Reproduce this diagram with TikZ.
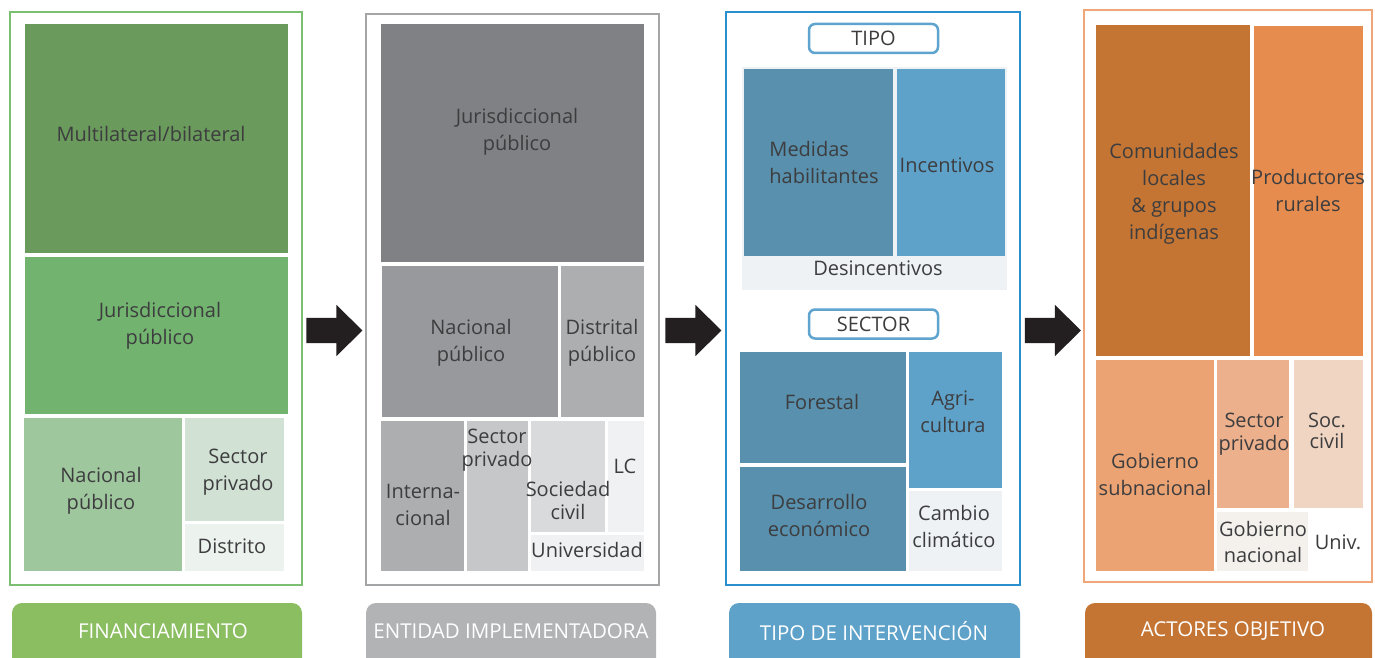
\documentclass[tikz,border=0pt]{standalone}
\usepackage{fontspec}
\setmainfont{Open Sans}
\usetikzlibrary{shapes.arrows}
\definecolor{gA}{HTML}{6A9A5C}
\definecolor{gB}{HTML}{72B46F}
\definecolor{gC}{HTML}{9FC79D}
\definecolor{gD}{HTML}{D1E1D4}
\definecolor{gE}{HTML}{ECF2EE}
\definecolor{gBorder}{HTML}{7CBE72}
\definecolor{gLabel}{HTML}{8BBD61}
\definecolor{kA}{HTML}{808184}
\definecolor{kB}{HTML}{98999C}
\definecolor{kC}{HTML}{ADAEB0}
\definecolor{kD}{HTML}{C6C7C8}
\definecolor{kE}{HTML}{D9DADB}
\definecolor{kF}{HTML}{F0F1F2}
\definecolor{kBorder}{HTML}{A4A5A7}
\definecolor{kLabel}{HTML}{B2B3B5}
\definecolor{bA}{HTML}{5890AD}
\definecolor{bB}{HTML}{5EA2CA}
\definecolor{bC}{HTML}{EEF2F5}
\definecolor{bBorder}{HTML}{2A8FCD}
\definecolor{bPill}{HTML}{5EA4CF}
\definecolor{bLabel}{HTML}{5EA2CA}
\definecolor{oA}{HTML}{C47534}
\definecolor{oB}{HTML}{E68C4E}
\definecolor{oC}{HTML}{EBA374}
\definecolor{oD}{HTML}{EDB08C}
\definecolor{oE}{HTML}{F1D5C3}
\definecolor{oF}{HTML}{F4F0EC}
\definecolor{oBorder}{HTML}{F1A679}
\definecolor{oLabel}{HTML}{C47534}
\definecolor{txtcol}{HTML}{3D3D3F}
\definecolor{arrowcol}{HTML}{231F20}
\newcommand{\cellbox}[6]{%
  \node[cellnode, fill=#6, minimum width={(#4-#2)*1pt}, minimum height={(#5-#3)*1pt}, anchor=north west] (#1) at (#2,#3) {};}
\newcommand{\panelframe}[6]{%
  \node[framenode, draw=#6, minimum width={(#4-#2)*1pt}, minimum height={(#5-#3)*1pt}, anchor=north west] (#1) at (#2,#3) {};}
\begin{document}
\begin{tikzpicture}[x=1pt,y=-1pt,
  cellnode/.style={rectangle, inner sep=0, outer sep=0, draw=none},
  framenode/.style={rectangle, inner sep=0, outer sep=0, line width=2pt, fill=white},
  txt/.style={inner sep=0, outer sep=0, align=center, text=txtcol, font=\fontsize{20}{27}\selectfont},
  tight/.style={font=\fontsize{20}{23}\selectfont},
  labelbox/.style={rectangle, rounded corners=10pt, inner sep=0, outer sep=0, draw=none},
  labeltext/.style={inner sep=0, text=white, font=\fontsize{20.5}{24}\selectfont},
  pill/.style={rectangle, rounded corners=6pt, line width=2.5pt, draw=bPill, fill=white, inner sep=0, text=txtcol, font=\fontsize{20}{24}\selectfont, minimum width=129pt, minimum height=29pt},
  blockarrow/.style={single arrow, fill=arrowcol, draw=none, minimum height=56pt, single arrow head extend=13pt, single arrow tip angle=89, inner sep=0, outer sep=0}
]
\useasboundingbox (0,0) rectangle (1375,658);
\fill[white] (0,0) rectangle (1375,658);

% ---------- Panel 1: FINANCIAMIENTO ----------
\panelframe{p1}{10}{12}{302}{585}{gBorder}
\cellbox{g1}{25}{24}{288}{253}{gA}
\cellbox{g2}{25}{257}{288}{414}{gB}
\cellbox{g3}{24}{418}{182}{571}{gC}
\cellbox{g4}{185}{418}{284}{521}{gD}
\cellbox{g5}{185}{524}{284}{571}{gE}
\node[txt] (g1t) at (151,134) {Multilateral/bilateral};
\node[txt] (g2t) at (160,326) {Jurisdiccional\\público};
\node[txt] (g3t) at (101,491) {Nacional\\público};
\node[txt] (g4t) at (238,472) {Sector\\privado};
\node[txt] (g5t) at (232,546) {Distrito};
\node[labelbox, fill=gLabel, minimum width=290pt, minimum height=70pt, anchor=north west] (l1) at (12,603) {};
\node[labeltext] (l1t) at (163,631) {FINANCIAMIENTO};

% ---------- Panel 2: ENTIDAD IMPLEMENTADORA ----------
\panelframe{p2}{366}{14}{659}{585}{kBorder}
\cellbox{k1}{381}{24}{644}{262}{kA}
\cellbox{k2}{382}{266}{558}{417}{kB}
\cellbox{k3}{561}{266}{644}{417}{kC}
\cellbox{k4}{381}{421}{464}{571}{kC}
\cellbox{k5}{467}{421}{528}{571}{kD}
\cellbox{k6}{531}{421}{605}{532}{kE}
\cellbox{k7}{608}{421}{644}{532}{kF}
\cellbox{k8}{531}{535}{644}{571}{kF}
\node[txt] (k1t) at (517,132) {Jurisdiccional\\público};
\node[txt] (k2t) at (471,343) {Nacional\\público};
\node[txt] (k3t) at (602,343) {Distrital\\público};
\node[txt] (k4t) at (423,505) {Interna-\\cional};
\node[txt, tight] (k5t) at (497,450) {Sector\\privado};
\node[txt, tight] (k6t) at (568,500) {Sociedad\\civil};
\node[txt] (k7t) at (625,466) {LC};
\node[txt] (k8t) at (587,550) {Universidad};
\node[labelbox, fill=kLabel, minimum width=290pt, minimum height=70pt, anchor=north west] (l2) at (366,603) {};
\node[labeltext] (l2t) at (511,631) {ENTIDAD IMPLEMENTADORA};

% ---------- Panel 3: TIPO DE INTERVENCIÓN ----------
\panelframe{p3}{726}{12}{1020}{585}{bBorder}
\node[pill] (tipo) at (873.5,38.5) {TIPO};
\cellbox{bbg}{742}{67}{1007}{290}{bC}
\cellbox{b1}{744}{69}{893}{256}{bA}
\cellbox{b2}{897}{69}{1005}{256}{bB}
\node[txt, align=left] (b1t) at (824,162) {Medidas\\habilitantes};
\node[txt] (b2t) at (947,165) {Incentivos};
\node[txt] (bbgt) at (878,268) {Desincentivos};
\node[pill] (sector) at (873.5,324) {SECTOR};
\cellbox{b3}{740}{352}{906}{463}{bA}
\cellbox{b4}{740}{467}{906}{571}{bA}
\cellbox{b5}{909}{352}{1002}{488}{bB}
\cellbox{b6}{909}{491}{1002}{571}{bC}
\node[txt] (b3t) at (822,402) {Forestal};
\node[txt] (b4t) at (819,515) {Desarrollo\\económico};
\node[txt] (b5t) at (953,412) {Agri-\\cultura};
\node[txt] (b6t) at (954,526) {Cambio\\climático};
\node[labelbox, fill=bLabel, minimum width=291pt, minimum height=70pt, anchor=north west] (l3) at (729,603) {};
\node[labeltext] (l3t) at (874,631) {TIPO DE INTERVENCIÓN};

% ---------- Panel 4: ACTORES OBJETIVO ----------
\panelframe{p4}{1084}{10}{1372}{582}{oBorder}
\cellbox{o1}{1096}{25}{1250}{356}{oA}
\cellbox{o2}{1254}{26}{1363}{356}{oB}
\cellbox{o3}{1096}{360}{1214}{571}{oC}
\cellbox{o4}{1217}{360}{1289}{508}{oD}
\cellbox{o5}{1294}{360}{1363}{508}{oE}
\cellbox{o6}{1217}{512}{1308}{571}{oF}
\cellbox{o7}{1312}{512}{1362}{571}{white}
\node[txt] (o1t) at (1174,194) {Comunidades\\locales\\\& grupos\\indígenas};
\node[txt] (o2t) at (1308,190) {Productores\\rurales};
\node[txt] (o3t) at (1155,474) {Gobierno\\subnacional};
\node[txt, tight] (o4t) at (1254,434) {Sector\\privado};
\node[txt, font=\fontsize{20}{21}\selectfont] (o5t) at (1327,431) {Soc.\\civil};
\node[txt, font=\fontsize{20}{26}\selectfont] (o6t) at (1263,542) {Gobierno\\nacional};
\node[txt] (o7t) at (1338,542) {Univ.};
\node[labelbox, fill=oLabel, minimum width=287pt, minimum height=70pt, anchor=north west] (l4) at (1085,603) {};
\node[labeltext] (l4t) at (1233,631) {ACTORES OBJETIVO};

% ---------- Block arrows ----------
\node[blockarrow] (a1) at (328,330.5) {\rule{0pt}{25pt}};
\node[blockarrow] (a2) at (687,330.5) {\rule{0pt}{25pt}};
\node[blockarrow] (a3) at (1046.5,330.5) {\rule{0pt}{25pt}};
\end{tikzpicture}
\end{document}
